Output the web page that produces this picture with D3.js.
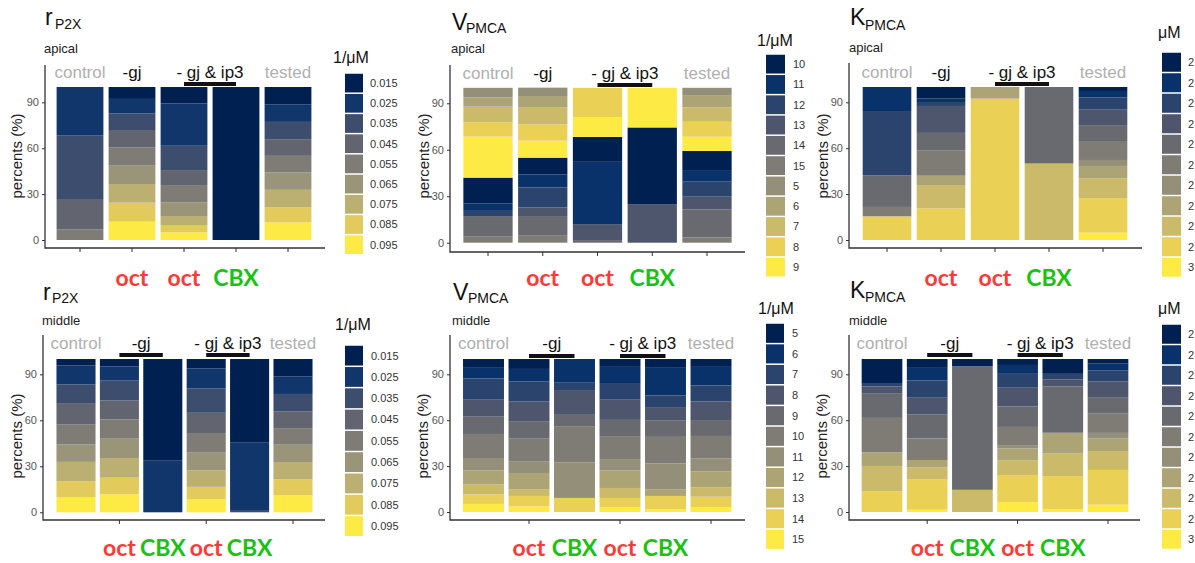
<!DOCTYPE html>
<meta charset="utf-8">
<head>
<style>
body { margin: 0; background: #fff; }
svg { display: block; font-family: "Liberation Sans", Arial, sans-serif; }
.treat { font-family: Lato, "Open Sans", sans-serif; font-weight: bold; font-size: 23px; }
</style>
</head>
<body>
<script src="https://cdn.jsdelivr.net/npm/d3@7"></script>
<div id="chart"></div>
<script>
var width = 1195, height = 563;

// legend levels, in legend order (dark -> yellow)
const rLevels = ["0.015", "0.025", "0.035", "0.045", "0.055", "0.065", "0.075", "0.085", "0.095"];
const vApicalLevels = ["10", "11", "12", "13", "14", "15", "5", "6", "7", "8", "9"];
const vMiddleLevels = ["5", "6", "7", "8", "9", "10", "11", "12", "13", "14", "15"];
const kLevels = ["2", "2", "2", "2", "2", "2", "2", "2", "2", "2", "3"];

// V apical bars are stacked by numeric value (5 on top), not by legend order
const vApicalStack = [6, 7, 8, 9, 10, 0, 1, 2, 3, 4, 5];

const yTicks = [0, 30, 60, 90];

// group headers: text, first bar, last bar, grey?, underline?
const groupsTop = [
  ["control", 0, 0, true, false],
  ["-gj", 1, 1, false, false],
  ["- gj & ip3", 2, 3, false, true],
  ["tested", 4, 4, true, false]
];
const groupsBottom = [
  ["control", 0, 0, true, false],
  ["-gj", 1, 2, false, true],
  ["- gj & ip3", 3, 4, false, true],
  ["tested", 5, 5, true, false]
];
const treatTop = ["", "oct", "oct", "CBX", ""];
const treatBottom = ["", "oct", "CBX", "oct", "CBX", ""];

// percents per bar, values in legend order
const rApical = [
  [0, 31.8, 41.4, 19.8, 7.0, 0, 0, 0, 0],
  [7.8, 9.4, 10.9, 11.5, 11.8, 12.0, 12.2, 12.4, 12.0],
  [10.7, 27.7, 15.9, 9.8, 11.3, 8.9, 6.3, 4.4, 5.0],
  [100, 0, 0, 0, 0, 0, 0, 0, 0],
  [11.3, 11.5, 11.3, 10.9, 10.9, 11.3, 11.3, 10.0, 11.5]
];
const vApical = [
  [16.6, 4.3, 3.9, 0, 13.3, 3.9, 6.2, 6.0, 10.1, 9.2, 26.5],
  [10.8, 8.4, 12.9, 5.6, 12.7, 4.5, 5.4, 7.5, 10.8, 10.5, 11.0],
  [16.1, 40.2, 0, 10.3, 1.7, 0, 0, 0, 0, 19.1, 12.6],
  [49.5, 0, 0, 24.9, 0, 0, 0, 0, 0, 0, 25.6],
  [12.3, 7.5, 9.7, 8.2, 18.1, 3.4, 4.7, 8.0, 9.2, 9.7, 9.2]
];
const kApical = [
  [0, 15.7, 42.0, 0, 20.7, 6.1, 0, 0, 0, 15.5, 0],
  [7.6, 2.2, 2.6, 17.6, 11.3, 16.7, 0, 6.1, 15.2, 20.7, 0],
  [0, 0, 0, 0, 0, 0, 0, 7.6, 0, 92.4, 0],
  [0, 0, 0, 0, 50, 0, 0, 0, 50, 0, 0],
  [2.6, 4.3, 7.6, 10.4, 10.4, 12.4, 3.9, 8.0, 13.0, 22.6, 4.8]
];
const rMiddle = [
  [4.3, 12.3, 12.6, 13.6, 13.0, 11.3, 12.6, 10.6, 9.7],
  [4.8, 9.3, 13.0, 12.3, 12.6, 12.6, 12.8, 10.8, 11.8],
  [66.0, 34.0, 0, 0, 0, 0, 0, 0, 0],
  [6.1, 13.0, 16.0, 13.2, 12.8, 11.5, 10.8, 8.0, 8.6],
  [54.6, 43.9, 1.5, 0, 0, 0, 0, 0, 0],
  [11.5, 11.3, 11.5, 10.8, 10.8, 11.3, 11.3, 10.4, 11.1]
];
const vMiddle = [
  [5.3, 7.4, 13.9, 11.1, 11.3, 15.7, 8.1, 9.2, 6.5, 6.2, 5.3],
  [6.5, 8.1, 13.2, 13.2, 11.1, 15.0, 7.4, 10.6, 4.4, 6.9, 3.6],
  [0, 15.5, 4.8, 16.2, 7.4, 23.6, 23.3, 0, 0, 9.2, 0],
  [4.6, 11.1, 10.9, 13.2, 10.6, 15.0, 7.4, 11.5, 6.5, 6.2, 3.0],
  [5.3, 18.5, 8.1, 8.1, 10.9, 17.3, 16.9, 4.4, 0, 8.7, 1.8],
  [4.6, 12.7, 10.4, 12.2, 10.4, 14.8, 8.3, 10.4, 6.2, 7.0, 3.0]
];
const kMiddle = [
  [16.2, 0, 1.7, 4.8, 15.8, 22.5, 0, 8.9, 16.7, 13.4, 0],
  [5.8, 8.2, 11.3, 10.8, 15.8, 14.1, 0, 4.8, 7.8, 19.9, 1.5],
  [4.8, 0, 0, 0, 80.7, 0, 0, 0, 14.5, 0, 0],
  [3.9, 5.8, 8.7, 12.6, 13.4, 11.9, 2.2, 7.6, 9.7, 17.7, 6.5],
  [9.7, 0, 3.7, 4.5, 30.3, 0, 0, 13.6, 14.7, 21.6, 1.9],
  [2.8, 4.8, 7.1, 10.2, 10.8, 12.6, 3.7, 8.2, 12.3, 22.7, 4.8]
];

const panels = [
  { t: "r", sub: "P2X", region: "apical", unit: "1/\u03bcM", levels: rLevels, values: rApical, groups: groupsTop, treat: treatTop },
  { t: "V", sub: "PMCA", region: "apical", unit: "1/\u03bcM", levels: vApicalLevels, values: vApical, stack: vApicalStack, groups: groupsTop, treat: treatTop },
  { t: "K", sub: "PMCA", region: "apical", unit: "\u03bcM", levels: kLevels, values: kApical, groups: groupsTop, treat: treatTop },
  { t: "r", sub: "P2X", region: "middle", unit: "1/\u03bcM", levels: rLevels, values: rMiddle, groups: groupsBottom, treat: treatBottom, ticks: [1, 3, 5] },
  { t: "V", sub: "PMCA", region: "middle", unit: "1/\u03bcM", levels: vMiddleLevels, values: vMiddle, groups: groupsBottom, treat: treatBottom, ticks: [1, 3, 5] },
  { t: "K", sub: "PMCA", region: "middle", unit: "\u03bcM", levels: kLevels, values: kMiddle, groups: groupsBottom, treat: treatBottom, ticks: [1, 3, 5] }
];

// where each panel sits on the page
const layout = [
  { ax: 45, aTop: 65, aBot: 248, aRight: 325, y0: 240, y100: 87, c1: 80, cn: 288,
    tx: 45, ty: 25, sx: 55, sy: 29, ry: 53, gy: 78, uy: 82, try_: 286, ytx: 22, yty: 156,
    lx: 333, lty: 63, kx: 345, ky: 73, ks: 20.2, kw: 18, lbx: 370 },
  { ax: 450, aTop: 65, aBot: 252, aRight: 745, y0: 242.7, y100: 87.8, c1: 488, cn: 707,
    tx: 452, ty: 30, sx: 466, sy: 33, ry: 53, gy: 79, uy: 83, try_: 286, ytx: 429, yty: 156,
    lx: 757, lty: 46, kx: 766, ky: 54, ks: 20.3, kw: 19, lbx: 793 },
  { ax: 849, aTop: 63, aBot: 248, aRight: 1142, y0: 240, y100: 87, c1: 887, cn: 1103,
    tx: 850, ty: 25, sx: 865, sy: 30, ry: 52, gy: 78, uy: 82, try_: 286, ytx: 828, yty: 156,
    lx: 1158, lty: 38, kx: 1162, ky: 52, ks: 20.5, kw: 19, lbx: 1188 },
  { ax: 43, aTop: 335, aBot: 520, aRight: 325, y0: 512.3, y100: 359, c1: 76, cn: 293,
    tx: 43, ty: 300, sx: 52, sy: 303, ry: 325, gy: 349, uy: 353, try_: 556, ytx: 22, yty: 436,
    lx: 335, lty: 330, kx: 345, ky: 345, ks: 21.3, kw: 18, lbx: 371 },
  { ax: 450, aTop: 335, aBot: 520, aRight: 745, y0: 512, y100: 359, c1: 483.5, cn: 711,
    tx: 453, ty: 300, sx: 468, sy: 303, ry: 325, gy: 349, uy: 354, try_: 556, ytx: 428, yty: 436,
    lx: 758, lty: 314, kx: 766, ky: 323, ks: 20.6, kw: 18, lbx: 792 },
  { ax: 849, aTop: 335, aBot: 520, aRight: 1140, y0: 512, y100: 359, c1: 882, cn: 1108,
    tx: 850, ty: 298, sx: 865, sy: 302, ry: 325, gy: 349, uy: 353, try_: 556, ytx: 827, yty: 436,
    lx: 1158, lty: 314, kx: 1162, ky: 324, ks: 20.5, kw: 19, lbx: 1188 }
];

const svg = d3.select("#chart")
    .append("svg")
    .attr("width", width)
    .attr("height", height);

panels.forEach(function (p, i) {
  const L = layout[i];
  const g = svg.append("g");
  const n = p.values.length;
  const step = (L.cn - L.c1) / (n - 1);

  const x = d3.scaleBand()
      .domain(d3.range(n))
      .range([L.c1 - step / 2, L.cn + step / 2])
      .paddingInner(0.1)
      .paddingOuter(0.05);
  const y = d3.scaleLinear().domain([0, 100]).range([L.y0, L.y100]);
  const colors = d3.quantize(d3.interpolateCividis, p.levels.length);
  const mid = j => x(j) + x.bandwidth() / 2;

  // stacked bars: d3.stack puts the first key at the bottom
  const order = p.stack || d3.range(p.levels.length);
  const series = d3.stack()
      .keys(order.slice().reverse())
      .value((d, k) => d[k])(p.values);

  g.selectAll("g.layer")
    .data(series)
    .enter().append("g")
      .attr("fill", s => colors[s.key])
    .selectAll("rect")
    .data(s => s)
    .enter().append("rect")
      .attr("x", (d, j) => x(j))
      .attr("width", x.bandwidth())
      .attr("y", d => y(d[1]))
      .attr("height", d => y(d[0]) - y(d[1]));

  // axes
  const yAxis = g.append("g")
      .attr("transform", "translate(" + L.ax + ",0)")
      .call(d3.axisLeft(y).tickValues(yTicks).tickSize(3).tickPadding(3));
  yAxis.select(".domain").remove();
  yAxis.selectAll("line").attr("stroke", "#333");
  yAxis.selectAll("text").attr("fill", "#555").style("font-size", "11px");

  const xAxis = g.append("g")
      .attr("transform", "translate(0," + L.aBot + ")")
      .call(d3.axisBottom(x).tickValues(p.ticks || d3.range(n)).tickSize(4).tickFormat(""));
  xAxis.select(".domain").remove();
  xAxis.selectAll("line").attr("stroke", "#333");

  g.append("path")
      .attr("d", "M" + L.ax + "," + L.aTop + "V" + L.aBot + "H" + L.aRight)
      .attr("fill", "none")
      .attr("stroke", "#333")
      .attr("stroke-width", 1.3);

  g.append("text")
      .attr("transform", "translate(" + L.ytx + "," + L.yty + ") rotate(-90)")
      .attr("text-anchor", "middle")
      .style("font-size", "15px")
      .attr("fill", "#222")
      .text("percents (%)");

  // titles
  g.append("text").attr("x", L.tx).attr("y", L.ty)
      .style("font-size", "23px").attr("fill", "#111").text(p.t);
  g.append("text").attr("x", L.sx).attr("y", L.sy)
      .style("font-size", "14px").attr("fill", "#111").text(p.sub);
  g.append("text").attr("x", L.tx - 1).attr("y", L.ry)
      .style("font-size", "13px").attr("fill", "#222").text(p.region);

  // group headers
  p.groups.forEach(function (gr) {
    const a = mid(gr[1]), b = mid(gr[2]);
    g.append("text")
        .attr("x", (a + b) / 2)
        .attr("y", L.gy)
        .attr("text-anchor", "middle")
        .style("font-size", "17px")
        .attr("fill", gr[3] ? "#b0b0b0" : "#111")
        .text(gr[0]);
    if (gr[4]) {
      g.append("rect")
          .attr("x", a).attr("y", L.uy)
          .attr("width", b - a).attr("height", 4)
          .attr("fill", "#111");
    }
  });

  // treatment labels under the bars
  g.selectAll("text.treat")
    .data(p.treat)
    .enter().append("text")
      .attr("class", "treat")
      .attr("x", (d, j) => mid(j))
      .attr("y", L.try_)
      .attr("text-anchor", "middle")
      .attr("fill", d => d === "oct" ? "#ff3838" : "#17c40f")
      .text(d => d);

  // legend
  const leg = g.append("g");
  leg.append("text").attr("x", L.lx).attr("y", L.lty)
      .style("font-size", "16px").attr("fill", "#111").text(p.unit);
  const keys = leg.selectAll("g.key")
    .data(p.levels)
    .enter().append("g")
      .attr("transform", (d, k) => "translate(0," + (L.ky + k * L.ks) + ")");
  keys.append("rect")
      .attr("x", L.kx)
      .attr("y", 0.75)
      .attr("width", L.kw)
      .attr("height", L.ks - 1.5)
      .attr("fill", (d, k) => colors[k]);
  keys.append("text")
      .attr("x", L.lbx)
      .attr("y", L.ks / 2)
      .attr("dy", "0.35em")
      .style("font-size", "11px")
      .attr("fill", "#333")
      .text(d => d);
});
</script>
</body>
